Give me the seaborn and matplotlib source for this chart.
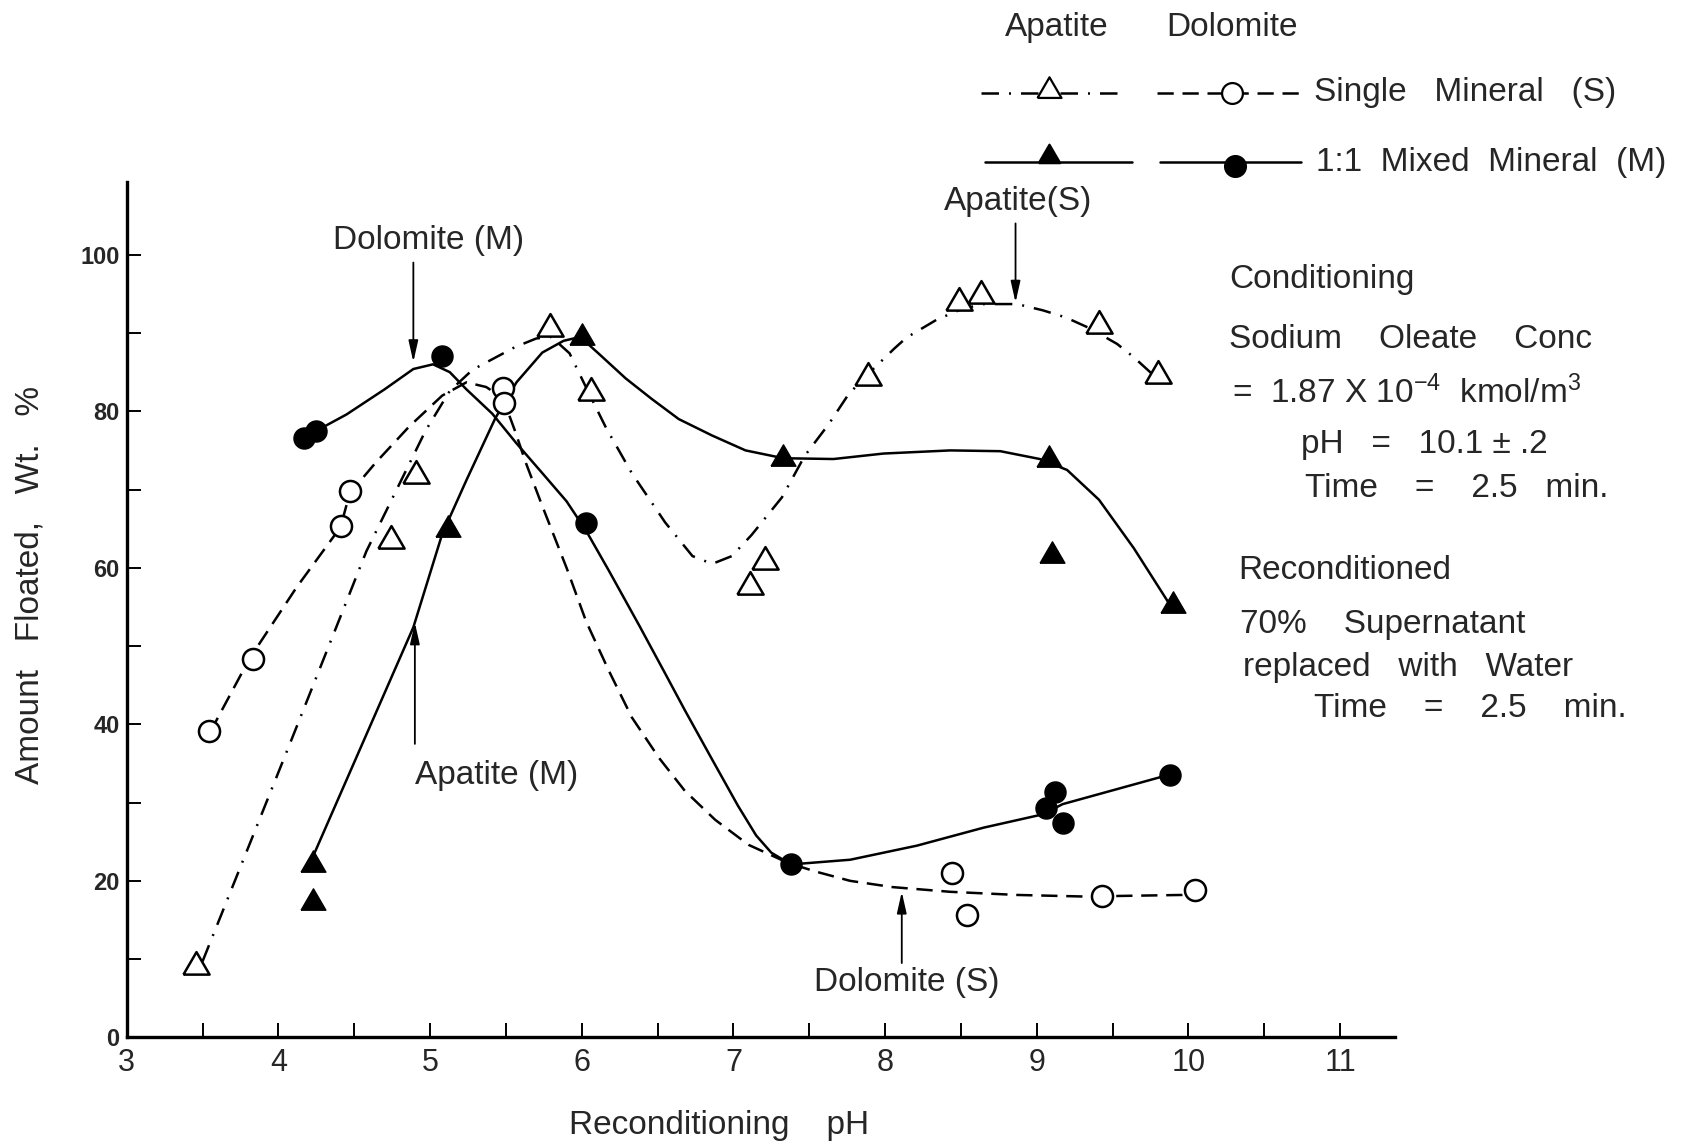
import numpy as np
import pandas as pd
import matplotlib
matplotlib.use("Agg")
import matplotlib.pyplot as plt
import seaborn as sns
from matplotlib.lines import Line2D

# ---------------- data ----------------
# measured points: reconditioning pH vs amount floated (wt %)
apatite_single_ph = [3.46, 4.74, 4.91, 5.79, 6.06, 7.11, 7.21, 7.89, 8.49, 8.63, 9.41, 9.80]
apatite_single_pct = [9.1, 63.5, 71.9, 90.6, 82.4, 57.7, 60.9, 84.4, 94.0, 94.9, 91.0, 84.6]

dolomite_single_ph = [3.54, 3.83, 4.41, 4.47, 5.48, 5.49, 8.44, 8.54, 9.43, 10.04]
dolomite_single_pct = [39.1, 48.4, 65.3, 69.8, 83.0, 81.0, 21.0, 15.6, 18.1, 18.8]

apatite_mixed_ph = [4.23, 4.23, 5.12, 6.00, 7.33, 9.08, 9.10, 9.90]
apatite_mixed_pct = [22.1, 17.3, 65.0, 89.5, 74.0, 73.9, 61.7, 55.3]

dolomite_mixed_ph = [4.17, 4.25, 5.08, 6.03, 7.38, 9.06, 9.12, 9.17, 9.88]
dolomite_mixed_pct = [76.6, 77.5, 87.0, 65.7, 22.1, 29.3, 31.4, 27.4, 33.5]

# hand-drawn trend curves
apatite_single_curve_ph = [3.50, 4.09, 4.40, 4.58, 4.78, 4.97, 5.13, 5.28, 5.56, 5.70, 5.80,
                           5.92, 6.05, 6.16, 6.33, 6.55, 6.73, 6.86, 6.99, 7.12, 7.32, 7.47,
                           7.63, 7.76, 7.89, 8.06, 8.14, 8.34, 8.51, 8.65, 8.87, 9.04, 9.19,
                           9.35, 9.53, 9.64, 9.77]
apatite_single_curve_pct = [9.7, 38.2, 53.3, 62.1, 70.0, 77.5, 82.6, 85.3, 88.2, 89.3, 89.5,
                            87.4, 82.2, 77.9, 72.1, 65.8, 61.5, 60.5, 61.5, 64.2, 69.0, 74.3,
                            78.4, 82.2, 84.8, 88.0, 89.4, 91.7, 93.1, 93.7, 93.7, 92.9, 92.0,
                            90.6, 88.6, 86.9, 84.6]

dolomite_single_curve_ph = [3.55, 3.81, 4.12, 4.41, 4.47, 4.64, 4.86, 5.08, 5.24, 5.37, 5.48,
                            5.56, 5.63, 5.74, 5.90, 6.03, 6.18, 6.33, 6.51, 6.68, 6.88, 7.10,
                            7.36, 7.54, 7.77, 8.05, 8.43, 8.87, 9.31, 9.96, 10.04]
dolomite_single_curve_pct = [39.0, 48.4, 57.5, 65.2, 69.5, 73.4, 78.0, 82.0, 83.7, 83.1, 81.7,
                             77.5, 73.5, 67.9, 60.0, 53.1, 46.8, 40.9, 35.7, 31.5, 27.8, 24.6,
                             22.3, 21.2, 20.0, 19.2, 18.6, 18.2, 18.0, 18.2, 18.5]

apatite_mixed_curve_ph = [4.21, 4.89, 5.08, 5.24, 5.43, 5.57, 5.74, 5.88, 5.99, 6.11, 6.29,
                          6.46, 6.64, 6.86, 7.08, 7.33, 7.66, 7.99, 8.43, 8.76, 9.02, 9.20,
                          9.41, 9.64, 9.90]
apatite_mixed_curve_pct = [22.3, 52.4, 64.3, 71.2, 79.1, 83.7, 87.5, 89.0, 89.5, 87.4, 84.2,
                           81.6, 79.0, 76.9, 75.0, 74.0, 73.9, 74.6, 75.0, 74.9, 73.9, 72.5,
                           68.7, 62.5, 54.6]

dolomite_mixed_curve_ph = [4.25, 4.45, 4.70, 4.89, 5.02, 5.13, 5.24, 5.41, 5.57, 5.74, 5.90,
                           6.03, 6.18, 6.38, 6.55, 6.68, 6.86, 7.03, 7.15, 7.25, 7.38, 7.77,
                           8.21, 8.65, 9.04, 9.17, 9.88]
dolomite_mixed_curve_pct = [77.5, 79.6, 82.8, 85.4, 86.0, 85.0, 82.8, 79.7, 75.9, 72.1, 68.5,
                            64.7, 59.6, 52.6, 46.5, 41.8, 35.5, 29.6, 25.8, 23.6, 22.1, 22.7,
                            24.5, 26.8, 28.5, 29.8, 33.6]

x_ticks = [3, 4, 5, 6, 7, 8, 9, 10, 11]
y_ticks = [0, 20, 40, 60, 80, 100]

# ---------------- style ----------------
sns.set_style("ticks")
plt.rcParams["font.family"] = ["Liberation Sans", "DejaVu Sans"]
plt.rcParams["mathtext.fontset"] = "custom"
plt.rcParams["mathtext.rm"] = "Liberation Sans"
plt.rcParams["mathtext.it"] = "Liberation Sans:italic"
NARROW = ["Liberation Sans Narrow", "Liberation Sans", "DejaVu Sans"]

FS = 24
LW = 1.8
DASHED = (0, (6.5, 3.5))
DASHDOT = (0, (7, 4, 0.8, 4))
TRI = [(-1.0, -0.62), (1.0, -0.62), (0.0, 1.1), (-1.0, -0.62)]
TRI_S = 430
CIRC_S = 230

fig = plt.figure(figsize=(16.98, 11.43), dpi=100)
ax = fig.add_axes([0.0746, 0.0924, 0.8214 - 0.0746, 0.8408 - 0.0924])


def curve(xs, ys, ls):
    n0 = len(ax.lines)
    sns.lineplot(x=xs, y=ys, ax=ax, sort=False, estimator=None, color="black",
                 linewidth=LW, legend=False)
    for ln in ax.lines[n0:]:
        ln.set_linestyle(ls)
        ln.set_zorder(2)
        ln.set_solid_joinstyle("round")
        ln.set_dash_joinstyle("round")


curve(apatite_single_curve_ph, apatite_single_curve_pct, DASHDOT)
curve(dolomite_single_curve_ph, dolomite_single_curve_pct, DASHED)
curve(apatite_mixed_curve_ph, apatite_mixed_curve_pct, "-")
curve(dolomite_mixed_curve_ph, dolomite_mixed_curve_pct, "-")

sns.scatterplot(x=apatite_single_ph, y=apatite_single_pct, ax=ax, marker=TRI, s=TRI_S,
                color="white", edgecolor="black", linewidth=1.8, zorder=4, legend=False)
sns.scatterplot(x=dolomite_single_ph, y=dolomite_single_pct, ax=ax, marker="o", s=CIRC_S,
                color="white", edgecolor="black", linewidth=1.8, zorder=4, legend=False)
sns.scatterplot(x=apatite_mixed_ph, y=apatite_mixed_pct, ax=ax, marker=TRI, s=TRI_S * 0.9,
                color="black", edgecolor="black", linewidth=1.0, zorder=4, legend=False)
sns.scatterplot(x=dolomite_mixed_ph, y=dolomite_mixed_pct, ax=ax, marker="o", s=CIRC_S,
                color="black", edgecolor="black", linewidth=1.0, zorder=4, legend=False)

# ---------------- curve labels with arrows ----------------
arrow_kw = dict(arrowstyle="-|>,head_length=0.8,head_width=0.18", color="black", lw=1.3,
                mutation_scale=16, shrinkA=0, shrinkB=0)
ax.annotate("", xy=(4.89, 86.3), xytext=(4.89, 99.0), arrowprops=arrow_kw, annotation_clip=False)
ax.text(4.99, 101.8, "Dolomite (M)", fontsize=FS, ha="center", va="center")
ax.annotate("", xy=(8.86, 93.9), xytext=(8.86, 104.0), arrowprops=arrow_kw, annotation_clip=False)
ax.text(8.88, 106.8, "Apatite(S)", fontsize=FS, ha="center", va="center")
ax.annotate("", xy=(4.90, 53.0), xytext=(4.90, 37.5), arrowprops=arrow_kw, annotation_clip=False)
ax.text(5.44, 33.5, "Apatite (M)", fontsize=FS, ha="center", va="center")
ax.annotate("", xy=(8.11, 18.6), xytext=(8.11, 9.5), arrowprops=arrow_kw, annotation_clip=False)
ax.text(8.14, 7.0, "Dolomite (S)", fontsize=FS, ha="center", va="center")

# ---------------- custom legend (above the plot) ----------------
def key(xs, ys, ls, marker, mx, my, face, ms):
    ax.add_line(Line2D(xs, ys, color="black", lw=LW, linestyle=ls, clip_on=False, zorder=3))
    ax.add_line(Line2D([mx], [my], marker=marker, markersize=ms, markerfacecolor=face,
                       markeredgecolor="black", markeredgewidth=1.6, linestyle="none",
                       clip_on=False, zorder=4))

ax.text(9.13, 129.0, "Apatite", fontsize=FS, ha="center", va="center")
ax.text(10.29, 129.0, "Dolomite", fontsize=FS, ha="center", va="center")
key([8.63, 9.59], [120.7, 120.7], DASHDOT, TRI, 9.08, 121.0, "white", 19)
key([9.79, 10.74], [120.7, 120.7], DASHED, "o", 10.29, 120.7, "white", 15)
ax.text(10.83, 120.7, "Single   Mineral   (S)", fontsize=FS, ha="left", va="center")
key([8.66, 9.63], [111.8, 111.8], "-", TRI, 9.08, 112.6, "black", 17)
key([9.81, 10.74], [111.8, 111.8], "-", "o", 10.31, 111.4, "black", 15)
ax.text(10.84, 111.8, "1:1  Mixed  Mineral  (M)", fontsize=FS, ha="left", va="center")

# ---------------- conditions text ----------------
cond_lines = [
    (10.27, 96.8, "Conditioning"),
    (10.27, 89.2, "Sodium    Oleate    Conc"),
    (10.29, 82.3, "=  1.87 X 10$^{-4}$  kmol/m$^3$"),
    (10.74, 75.7, "pH   =   10.1 ± .2"),
    (10.77, 70.1, "Time    =    2.5   min."),
    (10.33, 59.6, "Reconditioned"),
    (10.34, 52.7, "70%    Supernatant"),
    (10.36, 47.3, "replaced   with   Water"),
    (10.83, 42.0, "Time    =    2.5    min."),
]
for x, y, s in cond_lines:
    ax.text(x, y, s, fontsize=FS, ha="left", va="center")

# ---------------- axes ----------------
ax.set_xlim(3, 11.36)
ax.set_ylim(0, 109.3)
ax.tick_params(which="both", direction="in", length=10, width=1.4, color="black")
ax.tick_params(axis="x", pad=8)
ax.tick_params(axis="y", pad=5)
ax.set_xticks(x_ticks)
ax.set_xticks(np.arange(3.5, 11.0, 1.0), minor=True)
ax.set_yticks(y_ticks)
ax.set_yticks(np.arange(10, 100, 20), minor=True)
ax.set_xticklabels([str(t) for t in x_ticks], fontsize=22, family=NARROW)
ax.set_yticklabels([str(t) for t in y_ticks], fontsize=17, fontweight="bold", family=NARROW)
sns.despine(ax=ax)
for side in ("left", "bottom"):
    ax.spines[side].set_linewidth(2.4)
    ax.spines[side].set_color("black")

ax.set_xlabel("Reconditioning    pH", fontsize=FS)
ax.xaxis.set_label_coords(0.467, -0.085)
ax.set_ylabel("Amount   Floated,   Wt.   %", fontsize=FS)
ax.yaxis.set_label_coords(-0.064, 0.529)

fig.savefig("out.png", dpi=100)
